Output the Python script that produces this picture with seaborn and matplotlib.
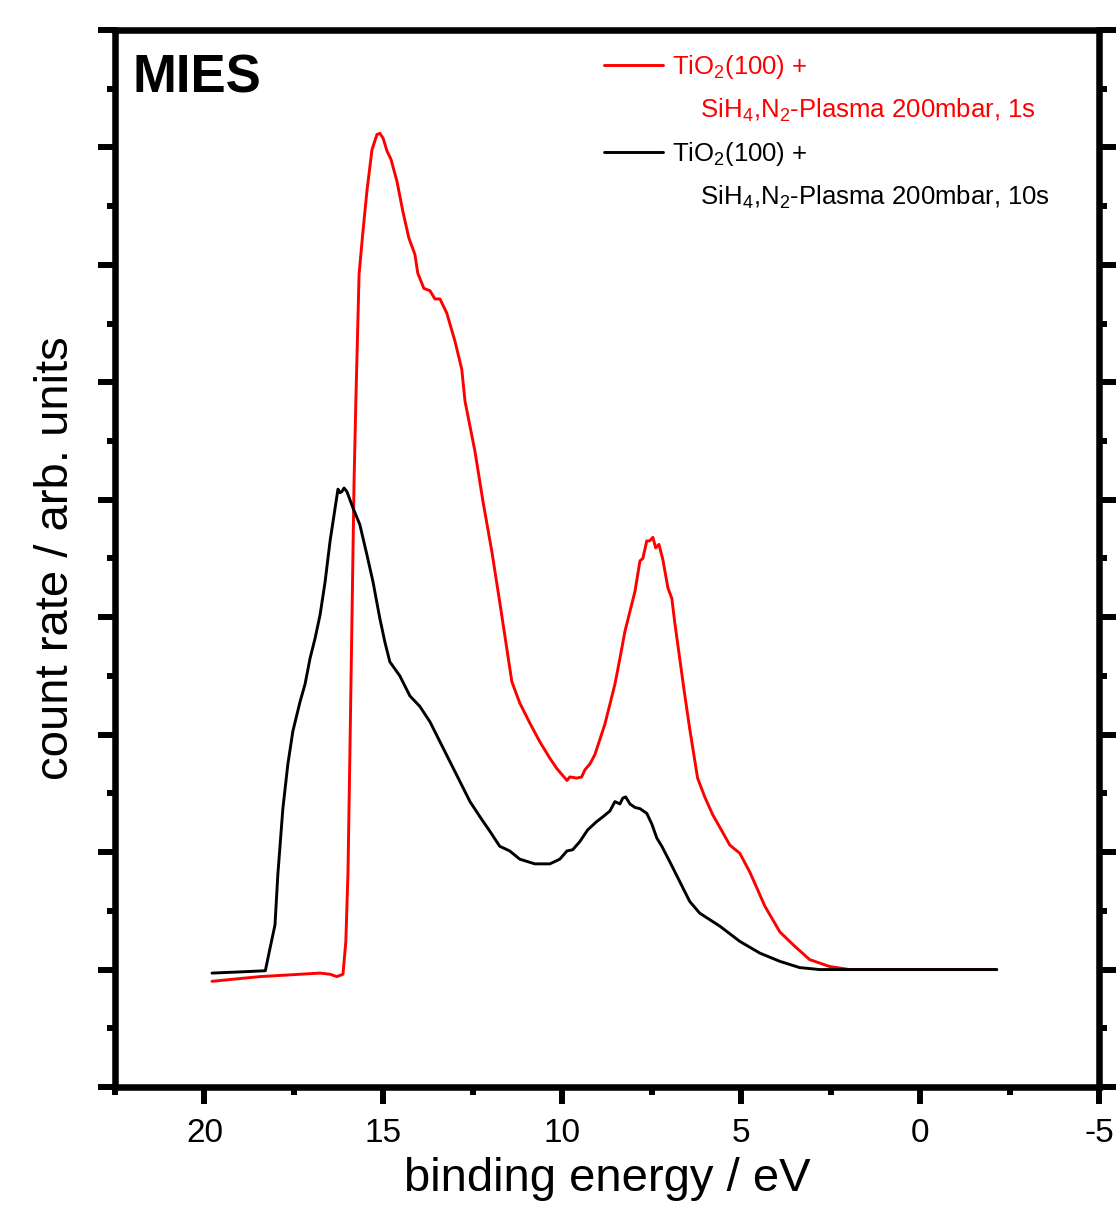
import numpy as np
import pandas as pd
import matplotlib
matplotlib.use("Agg")
import matplotlib.pyplot as plt
from matplotlib.lines import Line2D
from matplotlib.ticker import MultipleLocator
import seaborn as sns

# ---------------- data ----------------
energy_1s = [19.79, 18.45, 17.33, 16.77, 16.49, 16.30, 16.13, 16.05, 15.99, 15.94,
             15.88, 15.82, 15.77, 15.68, 15.57, 15.46, 15.32, 15.18, 15.10, 15.01,
             14.90, 14.79, 14.62, 14.46, 14.29, 14.12, 14.04, 13.87, 13.70, 13.56,
             13.42, 13.23, 13.00, 12.81, 12.72, 12.44, 12.22, 11.97, 11.75, 11.58,
             11.41, 11.19, 10.91, 10.63, 10.35, 10.15, 9.87, 9.79, 9.59, 9.46,
             9.37, 9.23, 9.09, 8.95, 8.81, 8.67, 8.53, 8.39, 8.25, 8.11,
             7.97, 7.83, 7.75, 7.64, 7.56, 7.47, 7.39, 7.30, 7.19, 7.05,
             6.94, 6.86, 6.72, 6.58, 6.44, 6.22, 6.02, 5.80, 5.54, 5.32,
             5.04, 4.76, 4.34, 3.92, 3.51, 3.09, 2.53, 1.97, 0.57, -2.14]
counts_1s = [-0.10, -0.06, -0.04, -0.03, -0.04, -0.06, -0.04, 0.24, 0.83, 1.77,
             2.96, 4.16, 4.84, 5.92, 6.29, 6.63, 6.98, 7.11, 7.12, 7.08,
             6.97, 6.90, 6.71, 6.46, 6.23, 6.09, 5.93, 5.80, 5.78, 5.71,
             5.71, 5.59, 5.35, 5.11, 4.84, 4.41, 3.99, 3.56, 3.13, 2.79,
             2.45, 2.27, 2.10, 1.94, 1.80, 1.71, 1.61, 1.64, 1.63, 1.64,
             1.70, 1.75, 1.83, 1.96, 2.09, 2.26, 2.43, 2.65, 2.88, 3.05,
             3.22, 3.48, 3.50, 3.65, 3.65, 3.68, 3.59, 3.62, 3.49, 3.25,
             3.16, 2.96, 2.65, 2.34, 2.05, 1.63, 1.47, 1.32, 1.18, 1.06,
             0.99, 0.83, 0.54, 0.32, 0.20, 0.085, 0.026, 0.0, 0.0, 0.0]

energy_10s = [19.79, 19.01, 18.30, 18.17, 18.03, 17.95, 17.81, 17.67, 17.53, 17.33,
              17.19, 17.05, 16.91, 16.77, 16.63, 16.49, 16.35, 16.27, 16.21, 16.16,
              16.10, 16.02, 15.85, 15.66, 15.46, 15.29, 15.10, 14.96, 14.82, 14.54,
              14.26, 13.98, 13.70, 13.42, 13.14, 12.86, 12.58, 12.30, 12.03, 11.75,
              11.47, 11.19, 10.77, 10.35, 10.07, 9.87, 9.71, 9.51, 9.29, 9.04,
              8.87, 8.67, 8.53, 8.39, 8.31, 8.23, 8.11, 7.97, 7.83, 7.64,
              7.50, 7.36, 7.22, 7.00, 6.72, 6.44, 6.16, 5.60, 5.04, 4.48,
              3.92, 3.37, 2.81, 0.57, -2.14]
counts_10s = [-0.03, -0.02, -0.01, 0.18, 0.38, 0.81, 1.37, 1.75, 2.03, 2.28,
              2.43, 2.65, 2.82, 3.02, 3.30, 3.65, 3.93, 4.09, 4.06, 4.07,
              4.10, 4.07, 3.93, 3.79, 3.53, 3.30, 2.99, 2.79, 2.62, 2.50,
              2.33, 2.24, 2.11, 1.94, 1.77, 1.60, 1.43, 1.30, 1.18, 1.05,
              1.01, 0.94, 0.90, 0.90, 0.94, 1.01, 1.02, 1.09, 1.19, 1.26,
              1.30, 1.35, 1.43, 1.41, 1.46, 1.47, 1.41, 1.38, 1.37, 1.33,
              1.24, 1.12, 1.05, 0.92, 0.75, 0.58, 0.48, 0.37, 0.24, 0.14,
              0.07, 0.017, 0.0, 0.0, 0.0]

series_names = ["1s", "10s"]
series_colors = ["#ff0000", "#000000"]
legend_first = ["TiO$_2$(100) +", "TiO$_2$(100) +"]
legend_second = ["    SiH$_4$,N$_2$-Plasma 200mbar, 1s",
                 "    SiH$_4$,N$_2$-Plasma 200mbar, 10s"]
x_ticks = [20, 15, 10, 5, 0, -5]

df = pd.concat([
    pd.DataFrame({"energy": energy_1s, "counts": counts_1s, "sample": "1s"}),
    pd.DataFrame({"energy": energy_10s, "counts": counts_10s, "sample": "10s"}),
], ignore_index=True)

# ---------------- style ----------------
sns.set_style("ticks")
plt.rcParams["font.family"] = ["Liberation Sans", "DejaVu Sans"]
plt.rcParams["mathtext.fontset"] = "custom"
plt.rcParams["mathtext.rm"] = "Liberation Sans"
plt.rcParams["mathtext.it"] = "Liberation Sans:italic"
plt.rcParams["mathtext.bf"] = "Liberation Sans:bold"
plt.rcParams["mathtext.default"] = "regular"
plt.rcParams["text.color"] = "black"
plt.rcParams["axes.labelcolor"] = "black"
plt.rcParams["xtick.color"] = "black"
plt.rcParams["ytick.color"] = "black"
plt.rcParams["axes.edgecolor"] = "black"

fig = plt.figure(figsize=(11.19, 12.09), dpi=100)
ax = fig.add_axes([0.1028, 0.1009, 0.8794, 0.8743])

sns.lineplot(data=df, x="energy", y="counts", hue="sample",
             hue_order=series_names, palette=dict(zip(series_names, series_colors)),
             estimator=None, sort=False, linewidth=2.1, legend=False, ax=ax)

ax.set_xlim(22.5, -5)
ax.set_ylim(-1, 8)
ax.set_xticks(x_ticks)
ax.set_xticklabels([str(t) for t in x_ticks])
ax.xaxis.set_minor_locator(MultipleLocator(2.5))
ax.yaxis.set_major_locator(MultipleLocator(1))
ax.yaxis.set_minor_locator(MultipleLocator(0.5))
ax.tick_params(axis="y", which="both", left=True, right=True,
               labelleft=False, labelright=False, direction="out")
ax.tick_params(axis="x", which="both", bottom=True, top=False, direction="out")
ax.tick_params(which="major", length=12, width=4.3, color="black")
ax.tick_params(which="minor", length=5.5, width=4.3, color="black")
ax.tick_params(axis="x", which="major", labelsize=24, pad=10, labelcolor="black")

for sp in ax.spines.values():
    sp.set_visible(True)
    sp.set_linewidth(4.7)
    sp.set_color("black")

ax.set_xlabel("binding energy / eV", fontsize=34, labelpad=6, color="black")
ax.set_ylabel("count rate / arb. units", fontsize=34, labelpad=15, color="black")

ax.text(0.018, 0.9404, "MIES", transform=ax.transAxes, fontsize=38,
        fontweight="bold", va="baseline", ha="left", color="black")

# legend
handles, labels, colors = [], [], []
for line, c, l1, l2 in zip(ax.lines, series_colors, legend_first, legend_second):
    handles += [line, Line2D([], [], color="none")]
    labels += [l1, l2]
    colors += [c, c]
leg = ax.legend(handles, labels, loc="upper left",
                bbox_to_anchor=((604 - 115) / 984, (1087 - 53) / 1057),
                frameon=False, fontsize=18.5, handlelength=2.3,
                handletextpad=0.35, labelspacing=0.62, borderpad=0,
                borderaxespad=0)
for t, c in zip(leg.get_texts(), colors):
    t.set_color(c)

fig.savefig("out.png", dpi=100)
